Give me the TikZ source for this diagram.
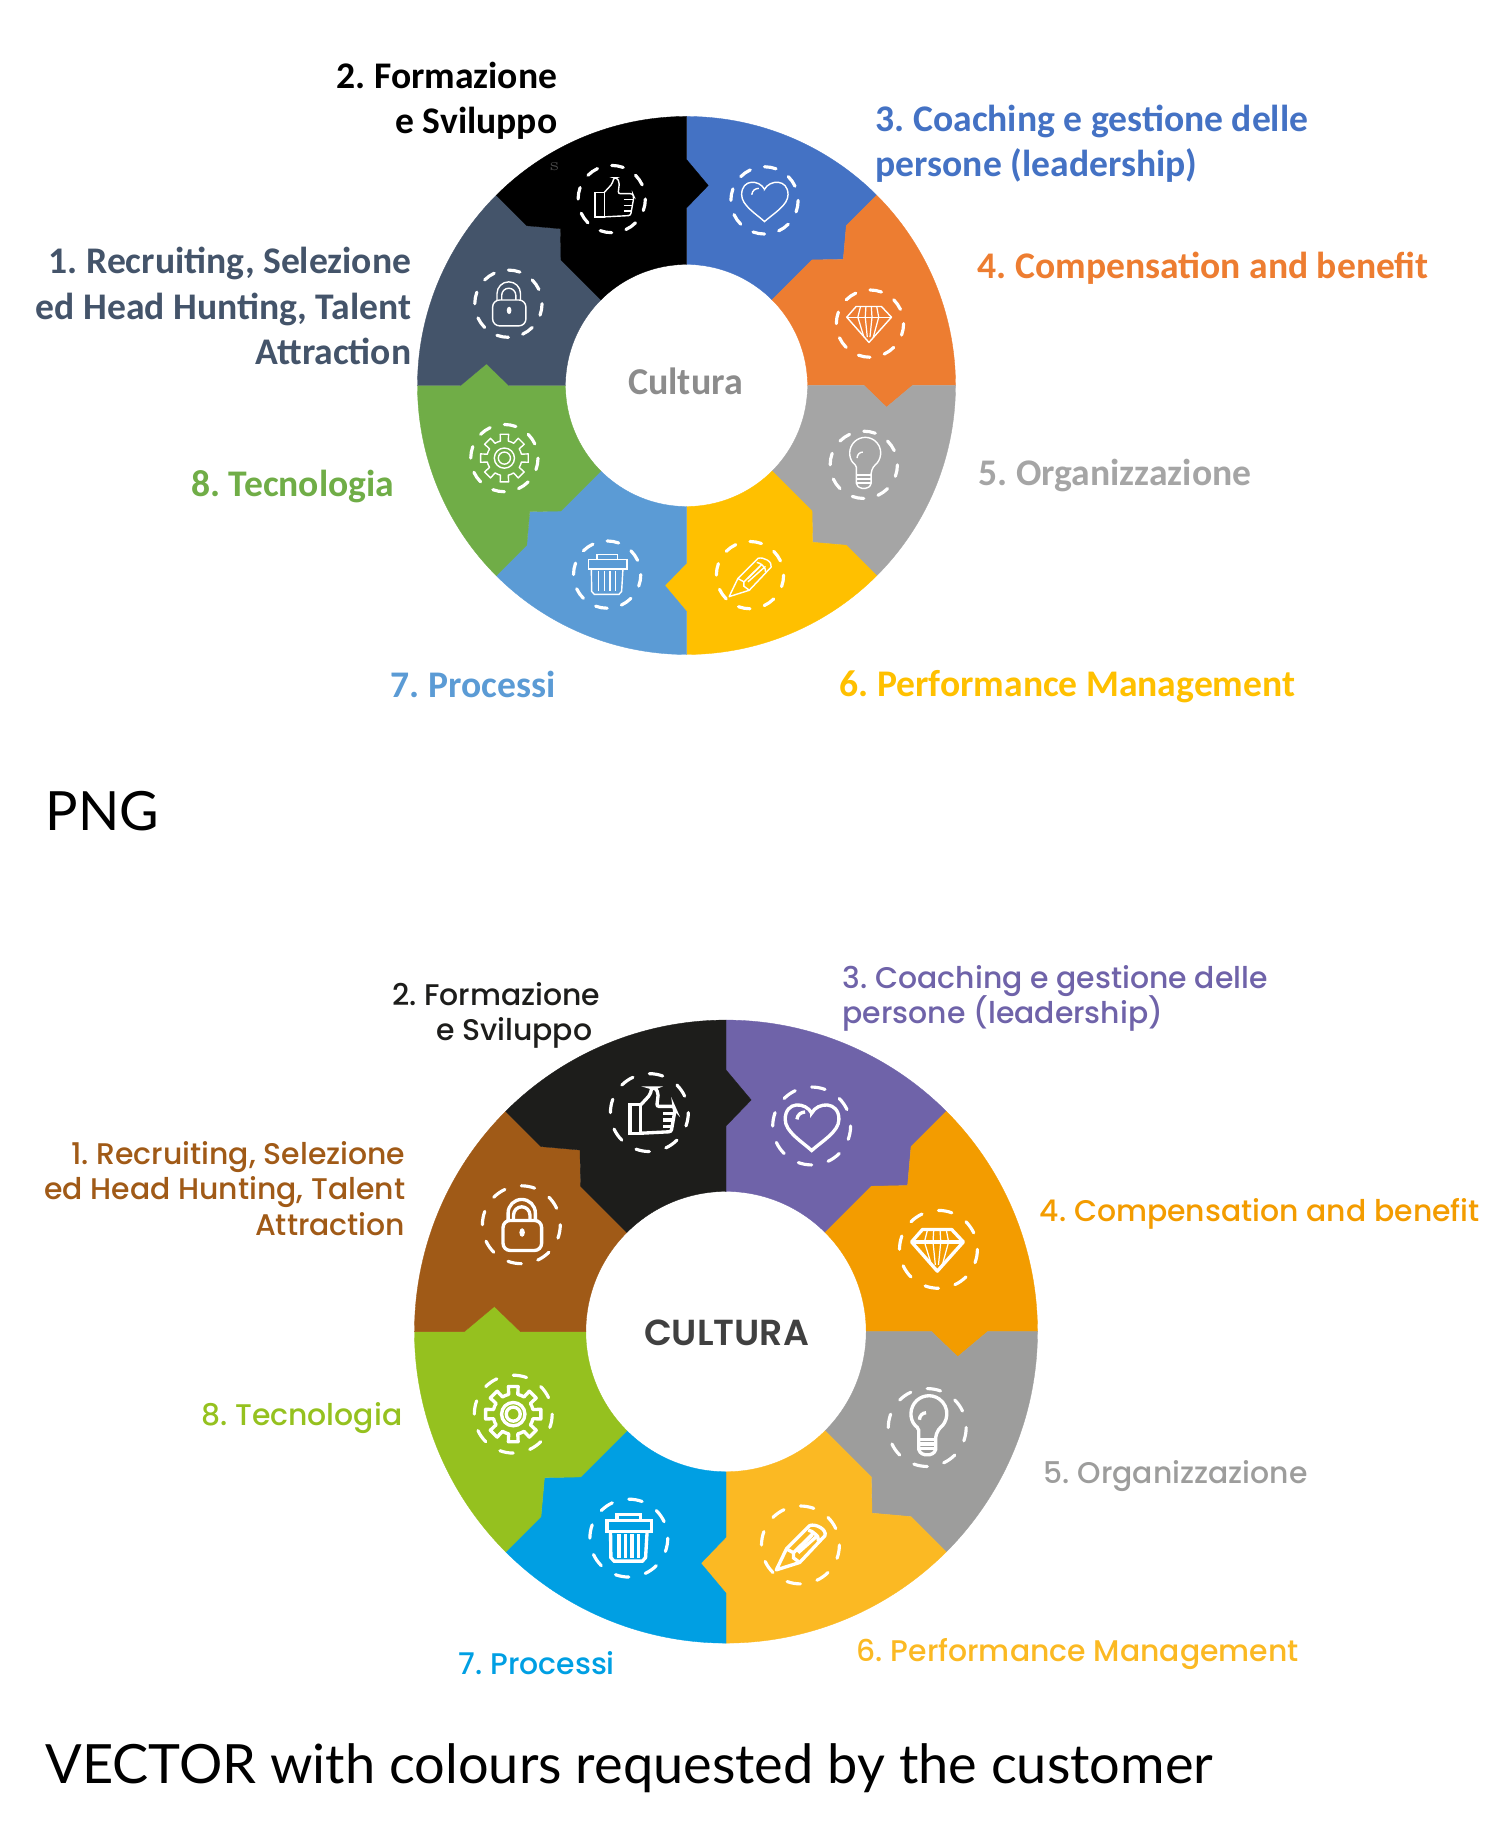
\documentclass[tikz,border=0pt]{standalone}
\usepackage{fontspec}
\usepackage{tikz}
\usetikzlibrary{calc,positioning}
\newfontfamily\pngfont{Carlito}
\newfontfamily\vecfont{Poppins Medium}
\newfontfamily\vecboldfont{Poppins SemiBold}
\newfontfamily\capfont{Lato}
\frenchspacing
\normallineskiplimit=-10pt
\lineskiplimit=-10pt
% png ring colours
\definecolor{pngblack}{HTML}{000000}
\definecolor{pngblue}{HTML}{4472C4}
\definecolor{pngorange}{HTML}{ED7D31}
\definecolor{pnggrey}{HTML}{A5A5A5}
\definecolor{pngyellow}{HTML}{FFC000}
\definecolor{pngsky}{HTML}{5B9BD5}
\definecolor{pnggreen}{HTML}{70AD47}
\definecolor{pngnavy}{HTML}{44546A}
% vector ring colours
\definecolor{vecblack}{HTML}{1D1D1B}
\definecolor{vecpurple}{HTML}{6F63A9}
\definecolor{vecorange}{HTML}{F39C00}
\definecolor{vecgrey}{HTML}{9D9D9C}
\definecolor{vecyellow}{HTML}{FBB923}
\definecolor{vecsky}{HTML}{009FE3}
\definecolor{vecgreen}{HTML}{95C11F}
\definecolor{vecbrown}{HTML}{A05A17}
\tikzset{
	pnglabel/.style={inner sep=0pt,align=#1,font=\frenchspacing\pngfont\bfseries\fontsize{10.7}{12.9}\selectfont},
	veclabel/.style={inner sep=0pt,align=#1,font=\frenchspacing\vecfont\fontsize{8.5}{10}\selectfont},
	captionlabel/.style={inner sep=0pt,anchor=west,font=\capfont\fontsize{15.4}{18}\selectfont},
	dashpiece/.style={draw=white,line width=.9pt,line cap=round}
}
% eight pieces of a ring, each with the tooth of its two borders
\newcommand{\ringpieces}[1]{
	\foreach \a/\col in {#1}{
		\path[fill=\col,draw=\col,line width=.1pt]
			(\a:1) -- (\a:.84) -- (\a-6.2:.748) -- (\a:.66) -- (\a:.45)
			arc[start angle=\a,end angle=\a-45,radius=.45]
			-- (\a-45:.66) -- (\a-51.2:.748) -- (\a-45:.84) -- (\a-45:1)
			arc[start angle=\a-45,end angle=\a,radius=1] -- cycle;
	}
}
\newcommand{\iconthumb}{
	\draw[iconline] (-.5,.2) rectangle (-.22,-.53);
	\draw[iconline,rounded corners=.6pt] (-.22,.2) -- (.02,.46) -- (.06,.63) -- (.15,.63) -- (.23,.5)
		-- (.19,.16) -- (.62,.16) -- (.66,.07) -- (.56,-.49) -- (-.22,-.53);
	\draw[iconline] (.36,-.02) -- (.66,-.02) (.36,-.19) -- (.62,-.19) (.36,-.36) -- (.58,-.36);
}
\newcommand{\iconheart}{
	\draw[iconline] (0,.33) .. controls (.15,.62) and (.7,.65) .. (.7,.17)
		.. controls (.7,-.15) and (.25,-.4) .. (0,-.63)
		.. controls (-.25,-.4) and (-.68,-.15) .. (-.68,.17)
		.. controls (-.68,.65) and (-.15,.62) .. cycle;
	\draw[iconline] (-.38,.17) .. controls (-.36,.3) and (-.28,.35) .. (-.17,.36);
}
\newcommand{\icondiamond}{
	\draw[iconline,line join=round] (-.41,.51) -- (.34,.51) -- (.64,.19) -- (-.03,-.56) -- (-.69,.19) -- cycle;
	\draw[iconline] (-.69,.19) -- (.64,.19);
	\foreach \k/\j in {-.28/-.36,-.12/-.14,.04/.06,.2/.26}{
		\draw[iconline,line width=.35pt] (\k,.51) -- (\j,.19);
	}
	\foreach \j/\k in {-.36/-.18,-.14/-.08,.06/.0,.26/.1}{
		\draw[iconline,line width=.35pt] (\j,.19) -- (\k,-.4);
	}
}
\newcommand{\iconbulb}{
	\draw[iconline,rounded corners=.5pt] (-.22,-.2) -- (-.22,-.02)
		arc[start angle=235,end angle=-55,radius=.46] -- (.22,-.2)
		-- (.22,-.6) -- (.1,-.7) -- (-.1,-.7) -- (-.22,-.6) -- cycle;
	\draw[iconline] (-.22,-.3) -- (.22,-.3) (-.22,-.42) -- (.22,-.42) (-.22,-.54) -- (.22,-.54);
	\draw[iconline] (-.2,.2) .. controls (-.2,.3) and (-.12,.38) .. (-.03,.38);
}
\newcommand{\iconpencil}{
	\draw[iconline,line join=round] (-.62,-.64) -- (-.36,-.1) -- (.24,.5) .. controls (.4,.55) and (.68,.4) .. (.63,.24)
		-- (-.02,-.45) -- cycle;
	\draw[iconline] (-.36,-.1) -- (-.18,-.2) -- (-.18,-.33) -- (-.02,-.45);
	\draw[iconline] (-.18,-.2) -- (.36,.33) (-.06,-.2) -- (.46,.26);
	\draw[iconline] (.2,.38) .. controls (.3,.38) and (.5,.2) .. (.46,.1);
	\draw[iconline] (-.06,-.1) -- (.3,.26);
}
\newcommand{\icontrash}{
	\draw[iconline] (-.56,.45) rectangle (.59,.17);
	\draw[iconline] (-.3,.45) -- (-.3,.6) -- (.3,.6) -- (.3,.45);
	\draw[iconline] (-.47,.17) -- (-.46,-.5) -- (-.38,-.59) -- (.35,-.59) -- (.43,-.5) -- (.47,.17);
	\foreach \k in {-.25,-.08,.08,.25}{
		\draw[iconline] (\k,.1) -- (\k,-.5);
	}
}
\newcommand{\icongear}{
	\draw[iconline,line join=round] (-22.5:.52)
		\foreach \t in {0,45,...,315}{
			-- (\t-13:.52) -- (\t-10:.72) -- (\t+10:.72) -- (\t+13:.52) -- (\t+22.5:.52)
		} -- cycle;
	\draw[iconline] (0,0) circle[radius=.3] (0,0) circle[radius=.18];
}
\newcommand{\iconlock}{
	\draw[iconline,rounded corners=2pt] (-.47,.11) -- (.52,.11) -- (.52,-.66) -- (-.47,-.66) -- cycle;
	\draw[iconline] (-.34,.11) -- (-.34,.3) arc[start angle=180,end angle=0,radius=.35] -- (.36,.11);
	\draw[iconline] (-.2,.11) -- (-.2,.25) arc[start angle=180,end angle=0,radius=.21] -- (.22,.11);
	\fill[white] (.02,-.2) ellipse[x radius=.07,y radius=.11];
}
% dashed round plus the icon in it, unit = radius of the dashed round
\newcommand{\ringicons}[1]{
	\foreach \ix/\iy/\ic in {#1}{
		\begin{scope}[shift={(\ix,\iy)},scale=.125]
			\foreach \k in {0,...,7}{
				\draw[dashpiece] (70+\k*45:1) arc[start angle=70+\k*45,delta angle=20,radius=1];
			}
			\csname icon\ic\endcsname
		\end{scope}
	}
}

\begin{document}
\begin{tikzpicture}
	\useasboundingbox (0,0) rectangle (15,18.22);
	% png ring
	\begin{scope}[shift={(6.865,14.365)},scale=2.69,
			iconline/.style={draw=white,line width=.4pt}]
		\ringpieces{90/pngblue,45/pngorange,0/pnggrey,-45/pngyellow,-90/pngsky,-135/pnggreen,180/pngnavy,135/pngblack}
		\ringicons{-.278/.693/thumb,.29/.688/heart,.682/.23/diamond,.659/-.295/bulb,.236/-.705/pencil,-.295/-.703/trash,-.677/-.27/gear,-.662/.304/lock}
	\end{scope}
	\node[inner sep=0pt,font=\tiny,text=black!70] (speck) at (5.545,16.55) {s};
	\node[pnglabel=center,text=pnggrey!85!black,font=\pngfont\bfseries\fontsize{10.8}{13}\selectfont] (pngcentre) at (6.855,14.41) {Cultura};
	\node[pnglabel=right,anchor=east,text=pngblack] (pngtwo) at (5.58,17.215) {2. Formazione\\e Sviluppo};
	\node[pnglabel=left,anchor=west,text=pngblue] (pngthree) at (8.75,16.78) {3. Coaching e gestione delle\\persone (leadership)};
	\node[pnglabel=left,anchor=west,text=pngorange] (pngfour) at (9.77,15.535) {4. Compensation and benefit};
	\node[pnglabel=left,anchor=west,text=pnggrey] (pngfive) at (9.78,13.465) {5. Organizzazione};
	\node[pnglabel=left,anchor=west,text=pngyellow] (pngsix) at (8.39,11.355) {6. Performance Management};
	\node[pnglabel=left,anchor=west,text=pngsky] (pngseven) at (3.90,11.38) {7. Processi};
	\node[pnglabel=right,anchor=east,text=pnggreen] (pngeight) at (3.95,13.35) {8. Tecnologia};
	\node[pnglabel=right,anchor=east,text=pngnavy] (pngone) at (4.12,15.16) {1. Recruiting, Selezione\\ed Head Hunting, Talent\\Attraction};
	\node[captionlabel] (pngcaption) at (.45,10.11) {PNG};
	% vector ring
	\begin{scope}[shift={(7.26,4.904)},scale=3.115,
			iconline/.style={draw=white,line width=.95pt}]
		\ringpieces{90/vecpurple,45/vecorange,0/vecgrey,-45/vecyellow,-90/vecsky,-135/vecgreen,180/vecbrown,135/vecblack}
		\ringicons{-.246/.703/thumb,.275/.66/heart,.682/.264/diamond,.646/-.308/bulb,.239/-.685/pencil,-.312/-.663/trash,-.683/-.265/gear,-.657/.343/lock}
	\end{scope}
	\node[veclabel=center,text=black!75,font=\vecboldfont\fontsize{10.3}{12}\selectfont] (veccentre) at (7.265,4.893) {CULTURA};
	\node[veclabel=right,anchor=east,text=vecblack] (vectwo) at (6.01,8.07) {2. Formazione\\e Sviluppo\hspace*{.08cm}};
	\node[veclabel=left,anchor=west,text=vecpurple] (vecthree) at (8.42,8.24) {3. Coaching e gestione delle\\persone (leadership)};
	\node[veclabel=left,anchor=west,text=vecorange] (vecfour) at (10.39,6.08) {4. Compensation and benefit};
	\node[veclabel=left,anchor=west,text=vecgrey] (vecfive) at (10.43,3.455) {5. Organizzazione};
	\node[veclabel=left,anchor=west,text=vecyellow] (vecsix) at (8.56,1.675) {6. Performance Management};
	\node[veclabel=left,anchor=west,text=vecsky] (vecseven) at (4.58,1.593) {7. Processi};
	\node[veclabel=right,anchor=east,text=vecgreen] (veceight) at (4.03,4.035) {8. Tecnologia};
	\node[veclabel=right,anchor=east,text=vecbrown] (vecone) at (4.06,6.334) {1. Recruiting, Selezione\\ed Head Hunting, Talent\\Attraction};
	\node[captionlabel] (veccaption) at (.45,.535) {VECTOR with colours requested by the customer};
\end{tikzpicture}
\end{document}
